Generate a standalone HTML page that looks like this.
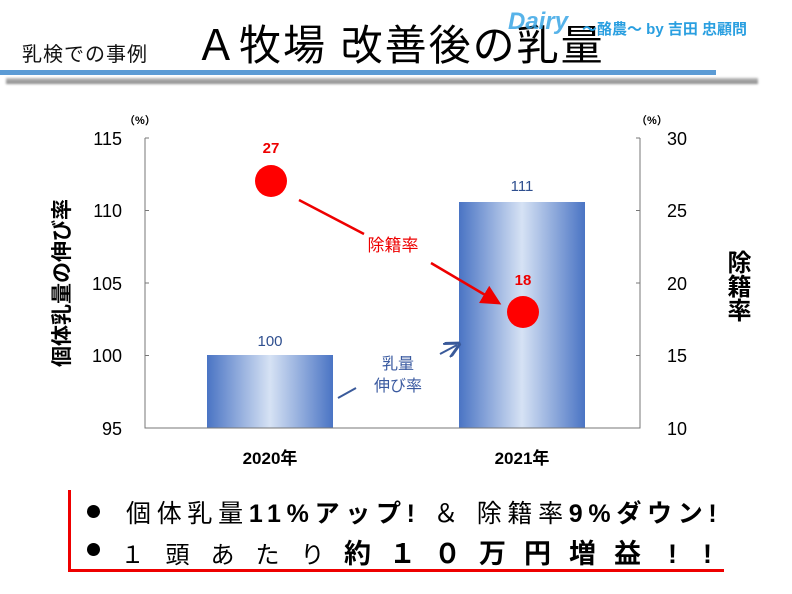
<!DOCTYPE html>
<html><head><meta charset="utf-8"><style>
body{margin:0;width:792px;height:594px;background:#fff;overflow:hidden;position:relative;font-family:"Liberation Sans","Noto Sans CJK JP",sans-serif}
.a{position:absolute;white-space:nowrap}
.c{display:inline-block;width:45px;text-align:center}
.dot{position:absolute;width:13px;height:13px;border-radius:50%;background:#000}
</style></head><body>
<div class="a" style="left:22px;top:38px;font-size:20px;color:#111;letter-spacing:1px">乳検での事例</div>
<div class="a" style="left:195px;top:12px;font-size:42px;color:#000;letter-spacing:2px">Ａ牧場 改善後の乳量</div>
<div class="a" style="left:508px;top:8px;font-size:24px;color:#3aa6e6;font-style:italic;font-weight:bold;opacity:.85">Dairy</div>
<div class="a" style="left:582px;top:18px;font-size:15px;color:#2a9fe0;font-weight:bold">〜酪農〜 by 吉田 忠顧問</div>
<div class="a" style="left:0;top:70px;width:716px;height:5px;background:#5b9bd5"></div>
<div class="a" style="left:6px;top:78px;width:752px;height:6px;background:linear-gradient(#bbb,#888);filter:blur(1px)"></div>
<svg class="a" style="left:0;top:0" width="792" height="594">
<defs><linearGradient id="g" x1="0" x2="1"><stop offset="0" stop-color="#4a74c4"/><stop offset=".5" stop-color="#d6e2f4"/><stop offset="1" stop-color="#4a74c4"/></linearGradient>
<marker id="ar" markerWidth="8" markerHeight="8" refX="6" refY="4" orient="auto"><path d="M0,0L8,4L0,8z" fill="#e00"/></marker>
<marker id="ab" markerWidth="8" markerHeight="8" refX="6" refY="4" orient="auto"><path d="M0,0L8,4L0,8" fill="none" stroke="#3a5a9a" stroke-width="1.5"/></marker></defs>
<rect x="207" y="355" width="126" height="73" fill="url(#g)"/>
<rect x="459" y="202" width="126" height="226" fill="url(#g)"/>
<g stroke="#777" stroke-width="1" fill="none">
<path d="M145,138V428H640V138"/>
<path d="M145,138h4M145,210.5h4M145,283h4M145,355.5h4M640,138h-4M640,210.5h-4M640,283h-4M640,355.5h-4"/>
</g>
<g font-size="18" fill="#000" text-anchor="end"><text x="122" y="145">115</text><text x="122" y="217">110</text><text x="122" y="290">105</text><text x="122" y="362">100</text><text x="122" y="435">95</text></g>
<g font-size="18" fill="#000"><text x="667" y="145">30</text><text x="667" y="217">25</text><text x="667" y="290">20</text><text x="667" y="362">15</text><text x="667" y="435">10</text></g>
<text x="124" y="124" font-size="11" font-weight="bold">（%）</text><text x="636" y="124" font-size="11" font-weight="bold">（%）</text>
<g font-size="17" font-weight="bold" text-anchor="middle"><text x="270" y="464">2020年</text><text x="522" y="464">2021年</text></g>
<g fill="#2f4f8f" font-size="15" text-anchor="middle"><text x="270" y="346">100</text><text x="522" y="191">111</text>
<text x="398" y="369" fill="#3a5aa0" font-size="16">乳量</text><text x="398" y="391" fill="#3a5aa0" font-size="16">伸び率</text></g>
<path d="M338,398L356,388" stroke="#3a5a9a" stroke-width="2"/>
<path d="M440,354L457,345" stroke="#3a5a9a" stroke-width="2" marker-end="url(#ab)"/>
<circle cx="271" cy="181" r="16" fill="#f00"/><circle cx="523" cy="312" r="16" fill="#f00"/>
<g fill="#e00" font-size="15" font-weight="bold" text-anchor="middle"><text x="271" y="153">27</text><text x="523" y="285">18</text>
<text x="393" y="251" font-size="17" font-weight="normal">除籍率</text></g>
<path d="M299,200L364,234" stroke="#e00" stroke-width="2.5"/>
<path d="M431,263L497,302" stroke="#e00" stroke-width="2.5" marker-end="url(#ar)"/>
<text transform="translate(69,283) rotate(-90)" font-size="21" font-weight="bold" text-anchor="middle">個体乳量の伸び率</text>
</svg>
<div class="a" style="left:719px;top:250px;font-size:24px;font-weight:bold;writing-mode:vertical-rl">除籍率</div>
<div class="a" style="left:68px;top:490px;width:3px;height:82px;background:#e00"></div>
<div class="a" style="left:68px;top:569px;width:656px;height:3px;background:#e00"></div>
<div class="dot" style="left:87px;top:505px"></div>
<div class="dot" style="left:87px;top:543px"></div>
<div class="a" style="left:126px;top:494px;font-size:25px;color:#000;letter-spacing:5.7px">個体乳量<b>11%アップ!</b>&nbsp;＆&nbsp;除籍率<b>9%ダウン!</b></div>
<div class="a" style="left:110px;top:532px;font-size:24px;color:#000"><span class="c">１</span><span class="c">頭</span><span class="c">あ</span><span class="c">た</span><span class="c">り</span><b style="font-size:27px"><span class="c">約</span><span class="c">１</span><span class="c">０</span><span class="c">万</span><span class="c">円</span><span class="c">増</span><span class="c">益</span><span class="c">!</span><span class="c" style="width:25px">!</span></b></div>
</body></html>
